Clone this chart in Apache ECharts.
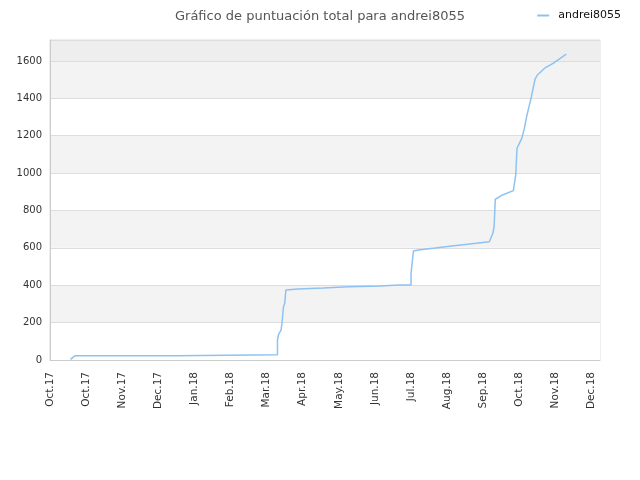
<!DOCTYPE html>
<html>
<head>
<meta charset="utf-8">
<script src="https://cdn.jsdelivr.net/npm/echarts@6/dist/echarts.min.js"></script>
<style>
	html, body { margin: 0; padding: 0; background: #fff; }
	#chart { width: 640px; height: 480px; }
</style>
</head>
<body>
<div id="chart"></div>
<script>
var chartTitle = 'Gráfico de puntuación total para andrei8055';
var seriesName = 'andrei8055';
var monthNames = ['Jan', 'Feb', 'Mar', 'Apr', 'May', 'Jun', 'Jul', 'Aug', 'Sep', 'Oct', 'Nov', 'Dec'];

// fechas y puntuación acumulada
var dates = [
	'2017-10-18', '2017-10-19', '2017-10-22', '2018-01-14', '2018-01-14',
	'2018-04-08', '2018-04-08', '2018-04-09', '2018-04-11', '2018-04-12',
	'2018-04-13', '2018-04-14', '2018-04-15', '2018-04-25', '2018-05-16',
	'2018-06-06', '2018-07-02', '2018-07-18', '2018-07-28', '2018-07-28',
	'2018-07-29', '2018-07-30', '2018-08-03', '2018-08-17', '2018-08-31',
	'2018-09-13', '2018-09-20', '2018-10-01', '2018-10-04', '2018-10-05',
	'2018-10-06', '2018-10-12', '2018-10-21', '2018-10-23', '2018-10-24',
	'2018-10-24', '2018-10-28', '2018-10-30', '2018-11-01', '2018-11-05',
	'2018-11-08', '2018-11-10', '2018-11-16', '2018-11-23', '2018-12-04'
];
var scores = [
	3, 10, 23, 23, 28,
	28, 107, 139, 160, 214,
	285, 303, 374, 380, 385,
	392, 396, 401, 401, 464,
	526, 583, 589, 599, 610,
	619, 624, 633, 678, 713,
	860, 883, 906, 990, 999,
	1133, 1186, 1234, 1301, 1409,
	1502, 1525, 1561, 1587, 1636
];

var DAY = 86400000;
function toTime(s) {
	var p = s.split('-');
	return Date.UTC(+p[0], +p[1] - 1, +p[2]);
}

var axisStart = toTime('2017-10-01');
var axisEnd = axisStart + 457 * DAY;

var data1 = new Array();
for(var i = 0; i < dates.length; i++) {
	data1.push([toTime(dates[i]) - axisStart, scores[i]]);
}

var ech = echarts.init(document.getElementById('chart'));
var option = {
	animation: false,
	title: {
		text: chartTitle,
		left: 'center',
		top: 5,
		textStyle: {
			color: '#555',
			fontWeight: 'normal',
			fontSize: 13,
			fontFamily: 'DejaVu Sans'
		}
	},
	legend: {
		right: 14,
		top: 5,
		itemWidth: 12,
		itemHeight: 2,
		itemGap: 5,
		icon: 'rect',
		textStyle: {
			color: '#111',
			fontSize: 11,
			fontFamily: 'DejaVu Sans',
			padding: [0, 0, 0, 4]
		},
		data: [seriesName]
	},
	grid: {
		left: 50,
		right: 40,
		top: 40,
		bottom: 120,
		show: true,
		borderColor: '#ddd',
		borderWidth: 1
	},
	xAxis: {
		type: 'value',
		min: 0,
		max: axisEnd - axisStart,
		interval: 30 * DAY,
		axisLine: { lineStyle: { color: '#ccc' } },
		axisTick: { show: false },
		splitLine: { show: false },
		axisLabel: {
			rotate: 90,
			margin: 12,
			color: '#333',
			fontSize: 10.5,
			fontFamily: 'DejaVu Sans',
			showMaxLabel: false,
			formatter: function(v) {
				var d = new Date(axisStart + v);
				return monthNames[d.getUTCMonth()] + '.' + String(d.getUTCFullYear()).substr(2, 2);
			}
		}
	},
	yAxis: {
		type: 'value',
		min: 0,
		max: 1712,
		interval: 200,
		axisLine: { show: true, lineStyle: { color: '#ccc' } },
		axisTick: { show: false },
		splitLine: { lineStyle: { color: '#ddd' } },
		splitArea: {
			show: true,
			areaStyle: {
				color: ['#ffffff', '#f3f3f3', '#ffffff', '#f3f3f3', '#ffffff', '#f3f3f3', '#ffffff', '#f3f3f3', '#eeeeee']
			}
		},
		axisLabel: {
			color: '#333',
			fontSize: 10,
			fontFamily: 'DejaVu Sans',
			showMaxLabel: false,
			formatter: function(v) {
				return String(v);
			}
		}
	},
	color: ['#8ec2f2'],
	series: [{
		name: seriesName,
		type: 'line',
		data: data1,
		symbol: 'none',
		lineStyle: { width: 1.5 }
	}]
};
ech.setOption(option);
</script>
</body>
</html>
